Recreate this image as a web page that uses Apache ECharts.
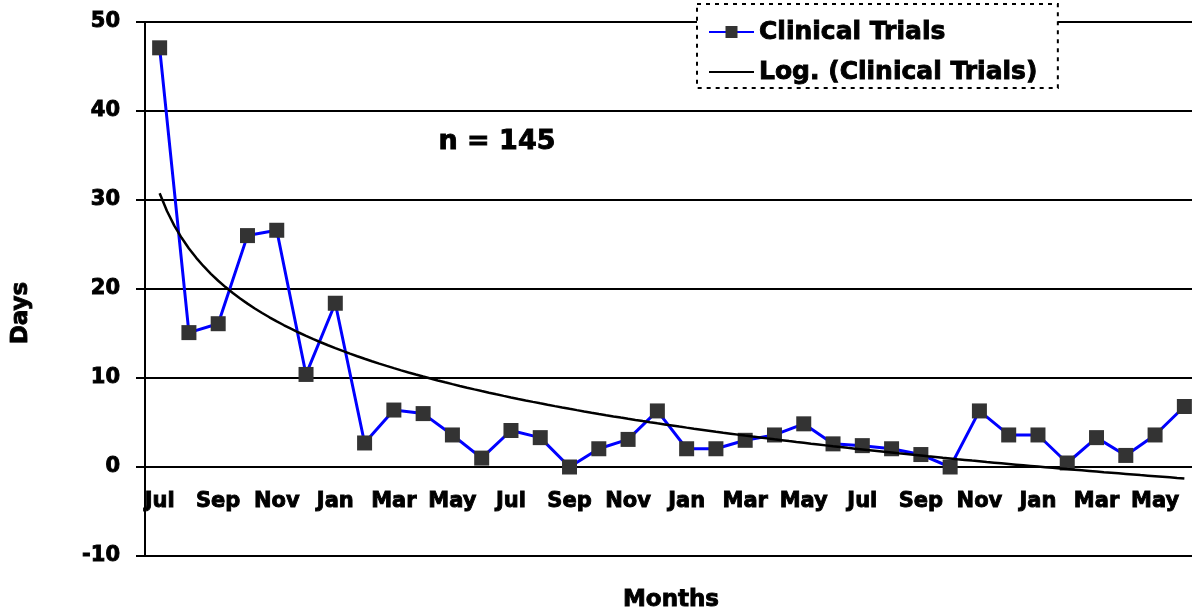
<!DOCTYPE html>
<html><head><meta charset="utf-8">
<script src="https://cdn.jsdelivr.net/npm/echarts@6/dist/echarts.min.js"></script>
<style>html,body{margin:0;padding:0;overflow:hidden;background:#fff}#c{width:1200px;height:613px}</style>
</head><body><div id="c"></div>
<script>
const months = ['Jul','Aug','Sep','Oct','Nov','Dec','Jan','Feb','Mar','Apr','May','Jun',
                'Jul','Aug','Sep','Oct','Nov','Dec','Jan','Feb','Mar','Apr','May','Jun',
                'Jul','Aug','Sep','Oct','Nov','Dec','Jan','Feb','Mar','Apr','May','Jun'];
const days = [47.1,15.1,16.1,26.0,26.6,10.4,18.4,2.7,6.4,6.0,3.6,1.0,
              4.1,3.3,0,2.05,3.1,6.3,2.05,2.05,3.0,3.6,4.85,2.6,
              2.4,2.05,1.4,0,6.3,3.6,3.6,0.45,3.3,1.3,3.6,6.8];
const yMin = -10, yMax = 50, yStep = 10;
const seriesName = 'Clinical Trials';
const trendName = 'Log. (Clinical Trials)';
const note = 'n = 145';
const yTitle = 'Days', xTitle = 'Months';

// Logarithmic least-squares trendline (as in the spreadsheet chart): y = a*ln(x) + b
const n = days.length;
let sL = 0, sY = 0, sLL = 0, sLY = 0;
days.forEach((y, i) => { const L = Math.log(i + 1); sL += L; sY += y; sLL += L * L; sLY += L * y; });
const a = (n * sLY - sL * sY) / (n * sLL - sL * sL);
const b = (sY - a * sL) / n;
const trend = [];
for (let x = 1; x <= n + 1e-9; x += 0.25) trend.push([x, a * Math.log(x) + b]);

const GRID_TOP = 22, GRID_BOTTOM = 57, H = 613;
// shift the category axis from the bottom of the grid up to the y = 0 line
const plotH = H - GRID_TOP - GRID_BOTTOM;
const zeroShift = -plotH * (0 - yMin) / (yMax - yMin);

const FONT = '"DejaVu Sans", "Liberation Sans", Arial, sans-serif';
const heavy = {fontFamily: FONT, fontWeight: 'bold', textBorderColor: '#000', textBorderWidth: 0.9};
const chart = echarts.init(document.getElementById('c'), null, {renderer: 'canvas'});
chart.setOption({
  animation: false,
  backgroundColor: '#fff',
  grid: {left: 145, right: 1, top: GRID_TOP, bottom: GRID_BOTTOM, containLabel: false, outerBoundsMode: 'none'},
  legend: {
    orient: 'vertical', left: 697, top: 4,
    data: [{name: seriesName}, {name: trendName, itemStyle: {opacity: 0}}],
    itemWidth: 45, itemHeight: 15, itemGap: 14,
    padding: [15, 20, 3, 11],
    backgroundColor: '#fff', borderColor: '#000', borderWidth: 2, borderType: [4, 5],
    textStyle: Object.assign({fontSize: 25, color: '#000', lineHeight: 26}, heavy)
  },
  xAxis: [{
    type: 'category', data: months, boundaryGap: true, position: 'bottom', offset: zeroShift,
    axisLine: {onZero: false, lineStyle: {color: '#000', width: 2}},
    axisTick: {interval: 0, length: 6, lineStyle: {color: '#000', width: 2}},
    axisLabel: Object.assign({interval: 1, margin: 24, color: '#000', fontSize: 21}, heavy),
    splitLine: {show: false}
  }, {
    type: 'value', min: 0.5, max: n + 0.5, show: false,
    axisLine: {onZero: false}
  }],
  yAxis: {
    type: 'value', min: yMin, max: yMax, interval: yStep,
    axisLine: {show: true, onZero: false, lineStyle: {color: '#000', width: 2}},
    axisTick: {show: true, length: 9, lineStyle: {color: '#000', width: 2}},
    axisLabel: Object.assign({margin: 25, color: '#000', fontSize: 21}, heavy),
    splitLine: {show: true, lineStyle: {color: '#000', width: 2}}
  },
  graphic: [
    {type: 'text', left: 508 - 70, top: 128, z: 10,
     style: {text: note, fontFamily: FONT, fontWeight: 'bold', fontSize: 27, fill: '#000', width: 140, align: 'center', stroke: '#000', lineWidth: 0.9}},
    {type: 'text', x: 21, y: 313, rotation: Math.PI / 2, z: 10,
     style: {text: yTitle, fontFamily: FONT, fontWeight: 'bold', fontSize: 23, fill: '#000', stroke: '#000', lineWidth: 0.9, align: 'center', verticalAlign: 'middle'}},
    {type: 'text', x: 671, y: 600, z: 10,
     style: {text: xTitle, fontFamily: FONT, fontWeight: 'bold', fontSize: 23, fill: '#000', stroke: '#000', lineWidth: 0.9, align: 'center', verticalAlign: 'middle'}}
  ],
  series: [{
    name: seriesName, type: 'line', xAxisIndex: 0, data: days,
    symbol: 'rect', symbolSize: 15,
    lineStyle: {color: '#0000ff', width: 3},
    itemStyle: {color: '#333333'},
    z: 3
  }, {
    name: trendName, type: 'line', xAxisIndex: 1, data: trend,
    symbol: 'none', lineStyle: {color: '#000', width: 2.5}, itemStyle: {color: '#000'},
    z: 4
  }]
});
</script></body></html>
